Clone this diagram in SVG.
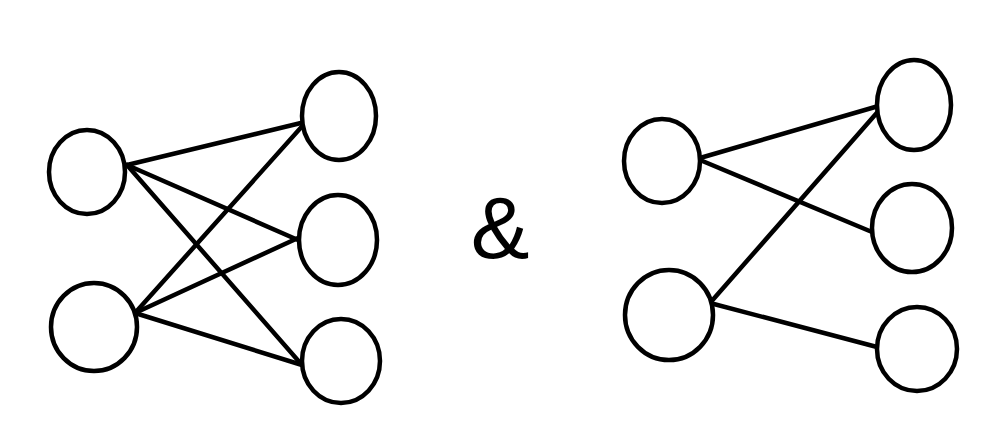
<svg xmlns="http://www.w3.org/2000/svg" width="1000" height="431" viewBox="0 0 1000 431">
<style>
.node ellipse{fill:#fff;stroke:#000;stroke-width:4.5}
.edges line{stroke:#000;stroke-width:4.5;stroke-linecap:round}
.amp{font-family:"Liberation Sans",Arial,sans-serif;font-size:88px;fill:#000}
</style>
<rect width="1000" height="431" fill="#fff"/>
<g class="edges" id="connectors">
<line x1="127" y1="165" x2="305" y2="122"/>
<line x1="127" y1="165" x2="298" y2="240"/>
<line x1="127" y1="165" x2="302" y2="365"/>
<line x1="135" y1="313" x2="305" y2="123"/>
<line x1="135" y1="313" x2="298" y2="238"/>
<line x1="135" y1="313" x2="302" y2="365"/>
<line x1="700" y1="158" x2="882" y2="105"/>
<line x1="700" y1="160" x2="872" y2="232"/>
<line x1="710" y1="303" x2="882" y2="107"/>
<line x1="710" y1="303" x2="877" y2="347"/>
</g>
<g class="node" id="a1"><ellipse cx="87" cy="172" rx="38" ry="42"/></g>
<g class="node" id="a2"><ellipse cx="94" cy="327" rx="43" ry="44"/></g>
<g class="node" id="b1"><ellipse cx="339" cy="116" rx="37" ry="44"/></g>
<g class="node" id="b2"><ellipse cx="338" cy="240" rx="39" ry="45"/></g>
<g class="node" id="b3"><ellipse cx="341" cy="361" rx="39" ry="42"/></g>
<g class="node" id="c1"><ellipse cx="662" cy="161" rx="38" ry="42"/></g>
<g class="node" id="c2"><ellipse cx="669" cy="315" rx="44" ry="45"/></g>
<g class="node" id="d1"><ellipse cx="914" cy="105" rx="37" ry="45"/></g>
<g class="node" id="d2"><ellipse cx="912" cy="228" rx="40" ry="44"/></g>
<g class="node" id="d3"><ellipse cx="917" cy="349" rx="40" ry="42"/></g>
<text class="amp" x="500" y="258" text-anchor="middle">&amp;</text>
</svg>
